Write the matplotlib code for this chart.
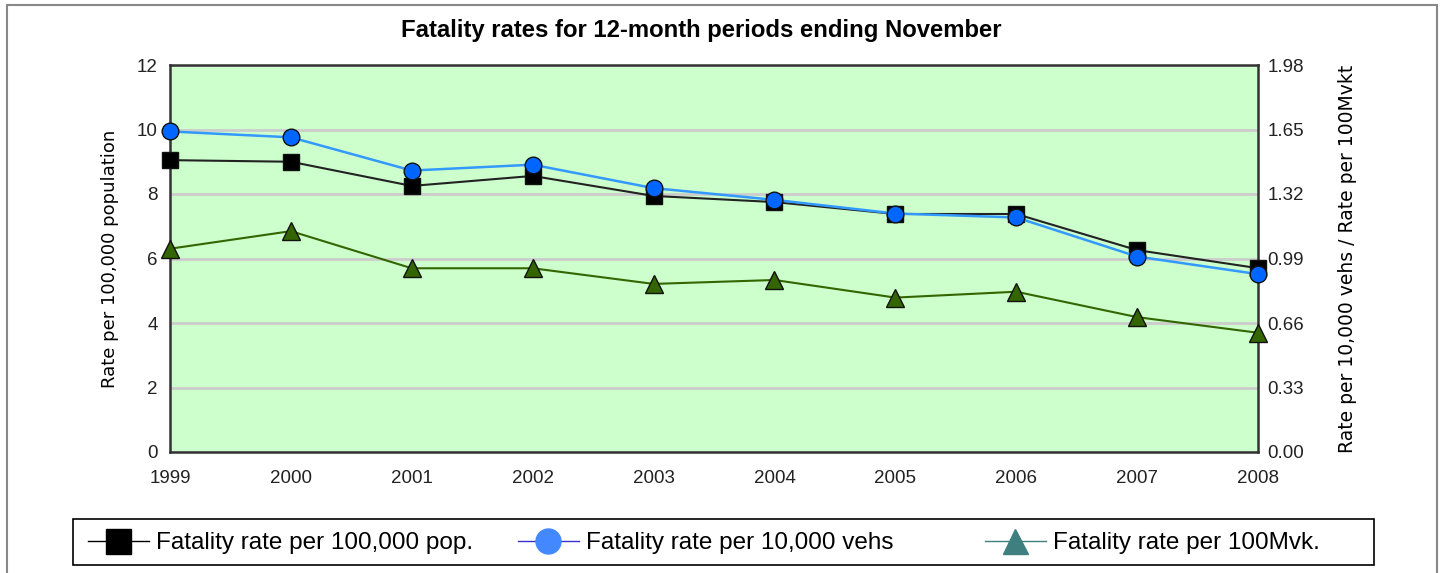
import matplotlib
matplotlib.use("Agg")
from matplotlib import pyplot as plt
from matplotlib.lines import Line2D
from matplotlib.patches import Rectangle

years = ["1999", "2000", "2001", "2002", "2003", "2004", "2005", "2006", "2007", "2008"]
# left axis: per 100,000 population
rate_pop = [9.05, 9.0, 8.25, 8.56, 7.94, 7.75, 7.38, 7.38, 6.26, 5.70]
# right axis: per 10,000 vehicles and per 100M vkt
rate_veh = [1.64, 1.61, 1.44, 1.47, 1.35, 1.29, 1.22, 1.20, 1.00, 0.91]
rate_vkt = [1.04, 1.13, 0.94, 0.94, 0.86, 0.88, 0.79, 0.82, 0.69, 0.61]

left_ticks = [0, 2, 4, 6, 8, 10, 12]
right_ticks = [0.00, 0.33, 0.66, 0.99, 1.32, 1.65, 1.98]

plt.rcParams['font.family'] = ['Liberation Sans', 'DejaVu Sans']

W, H = 1444, 573
fig = plt.figure(figsize=(W / 100, H / 100), dpi=100)
fig.patches.append(Rectangle((7/W, -0.05), 1430/W, 1.05 - 5/H,
                             transform=fig.transFigure, fill=False,
                             edgecolor="#888888", linewidth=1.5))

ax = fig.add_axes([170/W, 1 - 452/H, 1088/W, 387/H])
ax.set_facecolor("#ccffcc")
x = list(range(len(years)))

ax.set_xlim(0, len(years) - 1)
ax.set_ylim(0, 12)
ax.set_yticks(left_ticks)
ax.set_xticks(x)
ax.set_xticklabels(years)
ax.grid(axis="y", color="#cccccc", linewidth=2)
ax.set_axisbelow(True)
ax.tick_params(axis="both", length=0, labelsize=13.5, colors="#222222")
ax.tick_params(axis="x", pad=13)
ax.tick_params(axis="y", pad=9)
for s in ax.spines.values():
    s.set_color("#333333")
    s.set_linewidth(1.8)
ax.set_ylabel("Rate per 100,000 population", fontsize=13, family="DejaVu Sans",
              labelpad=13)

ax.plot(x, rate_pop, "-s", color="#222222", linewidth=1.5, markersize=11.5,
        markerfacecolor="black", markeredgecolor="#111111", clip_on=False, zorder=3)

ax2 = ax.twinx()
ax2.set_ylim(0, 1.98)
ax2.set_yticks(right_ticks)
ax2.set_yticklabels(["%.2f" % t for t in right_ticks])
ax2.tick_params(axis="y", length=0, labelsize=13.5, colors="#222222", pad=7)
for s in ax2.spines.values():
    s.set_visible(False)
ax2.set_ylabel("Rate per 10,000 vehs / Rate per 100Mvkt", fontsize=13.5,
               family="DejaVu Sans", labelpad=24)

ax2.plot(x, rate_vkt, "-^", color="#336600", linewidth=1.5, markersize=12.5,
         markerfacecolor="#336600", markeredgecolor="#111111", clip_on=False, zorder=3)
ax2.plot(x, rate_veh, "-o", color="#3399ff", linewidth=1.8, markersize=12,
         markerfacecolor="#0066ff", markeredgecolor="#111111", clip_on=False, zorder=4)

fig.text(701/W, 1 - 30/H, "Fatality rates for 12-month periods ending November",
         ha="center", va="center", fontsize=17.2, fontweight="bold")

# legend box with three entries placed like the original
fig.patches.append(Rectangle((73/W, 1 - 565/H), 1301/W, 46/H,
                             transform=fig.transFigure, fill=False,
                             edgecolor="black", linewidth=1.2))
handles = [
    Line2D([], [], color="black", marker="s", markersize=18, linewidth=1,
           markerfacecolor="black", markeredgecolor="black"),
    Line2D([], [], color="#3333cc", marker="o", markersize=18, linewidth=1,
           markerfacecolor="#4488ff", markeredgecolor="#4488ff"),
    Line2D([], [], color="#3f7f7f", marker="^", markersize=18, linewidth=1,
           markerfacecolor="#3f7f7f", markeredgecolor="#3f7f7f"),
]
labels = ["Fatality rate per 100,000 pop.", "Fatality rate per 10,000 vehs",
          "Fatality rate per 100Mvk."]
starts = [88, 518, 985]
for h, l, sx in zip(handles, labels, starts):
    fig.legend([h], [l], loc="center left", bbox_to_anchor=(sx/W, 1 - 543/H),
               fontsize=17.5, frameon=False, handlelength=2.5, handletextpad=0.3,
               borderpad=0, borderaxespad=0)

fig.savefig("out.png", dpi=100)
